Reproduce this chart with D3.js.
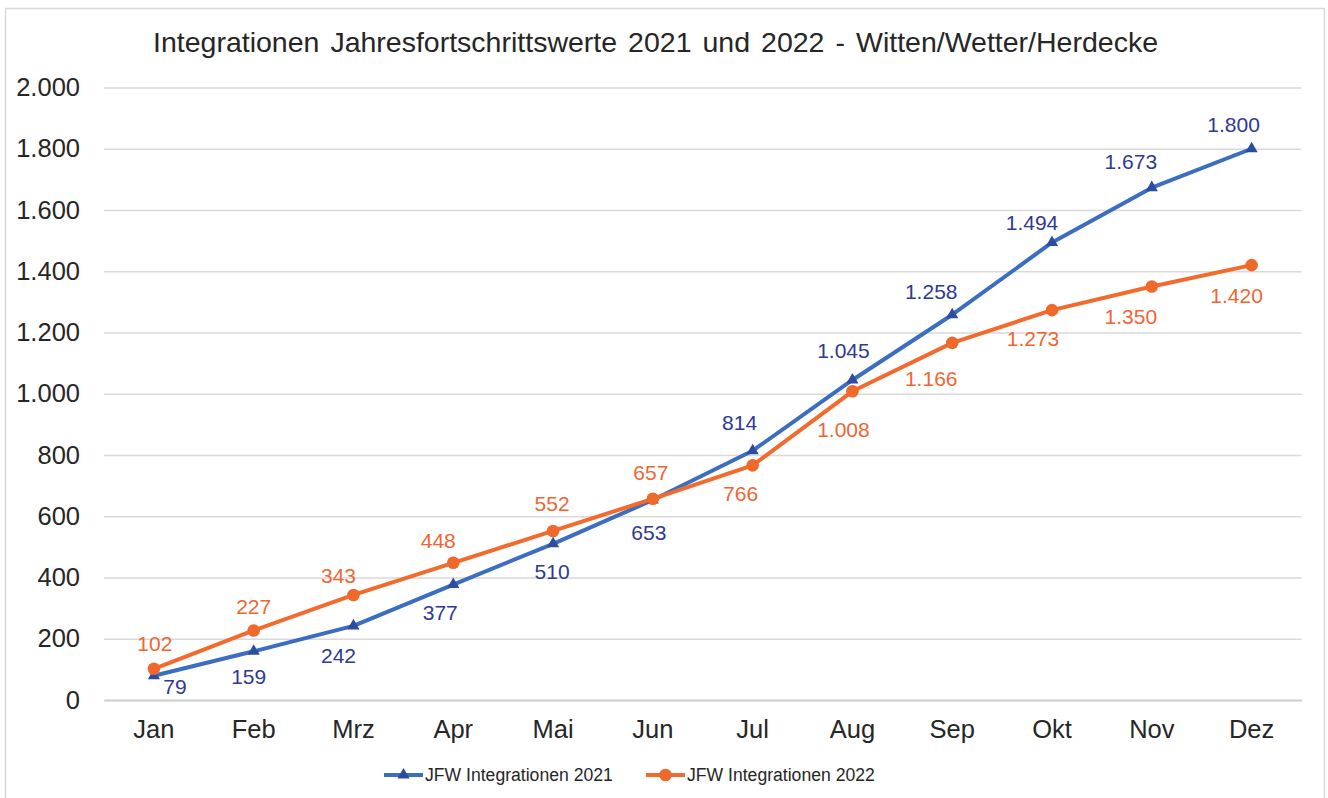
<!DOCTYPE html>
<html>
<head>
<meta charset="utf-8">
<script src="https://cdn.jsdelivr.net/npm/d3@7"></script>
<style>
  html, body { margin: 0; padding: 0; background: #ffffff; }
  svg { display: block; font-family: "Liberation Sans", Arial, sans-serif; }
</style>
</head>
<body>
<svg id="chart" width="1328" height="798"></svg>
<script>
// Monate
const months = ["Jan", "Feb", "Mrz", "Apr", "Mai", "Jun", "Jul", "Aug", "Sep", "Okt", "Nov", "Dez"];
// Jahresfortschrittswerte (kumuliert)
const values2021 = [79, 159, 242, 377, 510, 653, 814, 1045, 1258, 1494, 1673, 1800];
const values2022 = [102, 227, 343, 448, 552, 657, 766, 1008, 1166, 1273, 1350, 1420];
const yTicks = [0, 200, 400, 600, 800, 1000, 1200, 1400, 1600, 1800, 2000];
const seriesNames = ["JFW Integrationen 2021", "JFW Integrationen 2022"];
const titleText = "Integrationen Jahresfortschrittswerte 2021 und 2022 - Witten/Wetter/Herdecke";

// Versatz der Datenbeschriftungen relativ zum Punkt [dx, dy]
const labelOffsets2021 = [[21, 11], [-5, 25], [-15, 30], [-13, 28], [-1, 28], [-4, 32], [-13, -28], [-9, -30], [-21, -23], [-20, -20], [-21, -26], [-18, -24]];
const labelOffsets2022 = [[1, -25], [0, -24], [-15, -20], [-15, -22], [-1, -28], [-2, -26], [-12, 28], [-9, 38], [-21, 36], [-19, 28], [-21, 30], [-15, 30]];

const fmt = d3.formatLocale({ decimal: ",", thousands: ".", grouping: [3], currency: ["", " €"] }).format(",d");

const svg = d3.select("#chart");

// Diagrammrahmen
svg.append("rect")
  .attr("x", 5.5).attr("y", 8.5)
  .attr("width", 1319).attr("height", 795)
  .attr("fill", "#ffffff").attr("stroke", "#d9d9d9").attr("stroke-width", 1.5);

const x = d3.scaleBand().domain(months).range([104, 1301.5]);
const y = d3.scaleLinear().domain([0, 2000]).range([700, 87.5]);
const cx = m => x(m) + x.bandwidth() / 2;

// Gitterlinien und Y-Achse
const yAxis = d3.axisLeft(y)
  .tickValues(yTicks)
  .tickSize(-(1301.5 - 104))
  .tickPadding(24)
  .tickFormat(fmt);

const gy = svg.append("g").attr("transform", "translate(104,0)").call(yAxis);
gy.select(".domain").remove();
gy.selectAll(".tick line")
  .attr("stroke", "#d9d9d9").attr("stroke-width", 1.5);
gy.selectAll(".tick text")
  .attr("fill", "#262626").attr("font-size", 25.5)
  .attr("font-family", "Liberation Sans, Arial, sans-serif");

// X-Achse
const xAxis = d3.axisBottom(x).tickSize(0).tickPadding(20);
const gx = svg.append("g").attr("transform", "translate(0,700)").call(xAxis);
gx.select(".domain").attr("stroke", "#cfcfcf").attr("stroke-width", 2);
gx.selectAll(".tick text")
  .attr("fill", "#262626").attr("font-size", 25.5)
  .attr("font-family", "Liberation Sans, Arial, sans-serif");

// Titel: Wortabstand so, dass die Zeile 1005 px breit wird
const title = svg.append("text")
  .attr("x", 655.5).attr("y", 52)
  .attr("text-anchor", "middle")
  .attr("font-size", 28.5)
  .attr("fill", "#262626")
  .text(titleText);
const natural = title.node().getComputedTextLength();
const spaces = titleText.split(" ").length - 1;
title.attr("word-spacing", Math.max(0, (1005 - natural) / spaces));

const blueLine = "#3b6dc0", blueMarker = "#2c4d9f", blueLabel = "#2e3a92";
const orangeLine = "#f26b2d", orangeMarker = "#ef692d", orangeLabel = "#ef6633";

const line = d3.line().x((d, i) => cx(months[i])).y(d => y(d));
const triangle = d3.symbol().type(d3.symbolTriangle).size(64);

// Serie 2021
svg.append("path").datum(values2021)
  .attr("d", line).attr("fill", "none")
  .attr("stroke", blueLine).attr("stroke-width", 4).attr("stroke-linejoin", "round");
svg.append("g").selectAll("path").data(values2021).join("path")
  .attr("d", triangle)
  .attr("transform", (d, i) => `translate(${cx(months[i])},${y(d)})`)
  .attr("fill", blueMarker);

// Serie 2022
svg.append("path").datum(values2022)
  .attr("d", line).attr("fill", "none")
  .attr("stroke", orangeLine).attr("stroke-width", 4).attr("stroke-linejoin", "round");
svg.append("g").selectAll("circle").data(values2022).join("circle")
  .attr("cx", (d, i) => cx(months[i])).attr("cy", d => y(d))
  .attr("r", 6.3).attr("fill", orangeMarker);

// Datenbeschriftungen
function labels(values, offsets, color) {
  svg.append("g").selectAll("text").data(values).join("text")
    .attr("x", (d, i) => cx(months[i]) + offsets[i][0])
    .attr("y", (d, i) => y(d) + offsets[i][1])
    .attr("dy", "0.36em")
    .attr("text-anchor", "middle")
    .attr("font-size", 21)
    .attr("fill", color)
    .text(d => fmt(d));
}
labels(values2021, labelOffsets2021, blueLabel);
labels(values2022, labelOffsets2022, orangeLabel);

// Legende
const legend = [
  { name: seriesNames[0], line: blueLine, marker: blueMarker, type: "tri", x: 384 },
  { name: seriesNames[1], line: orangeLine, marker: orangeMarker, type: "circ", x: 646 }
];
const lg = svg.append("g");
legend.forEach(l => {
  const g = lg.append("g").attr("transform", `translate(${l.x},775)`);
  g.append("line").attr("x1", 0).attr("x2", 39).attr("y1", 0).attr("y2", 0)
    .attr("stroke", l.line).attr("stroke-width", 4);
  if (l.type === "tri") {
    g.append("path").attr("d", triangle).attr("transform", "translate(19.5,0)").attr("fill", l.marker);
  } else {
    g.append("circle").attr("cx", 19.5).attr("cy", 0).attr("r", 6.3).attr("fill", l.marker);
  }
  g.append("text").attr("x", 41).attr("y", 0).attr("dy", "0.36em")
    .attr("font-size", 17.6).attr("fill", "#262626").text(l.name);
});
</script>
</body>
</html>
